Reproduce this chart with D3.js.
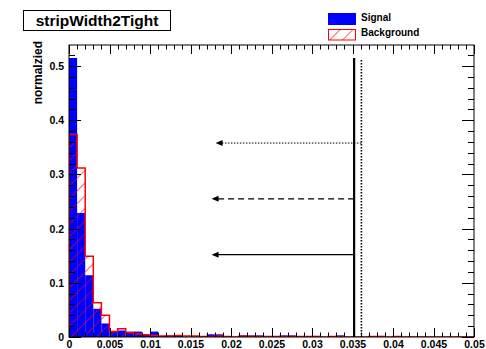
<!DOCTYPE html>
<html>
<head>
<meta charset="utf-8">
<script src="https://cdn.jsdelivr.net/npm/d3@7"></script>
<style>
  html, body { margin: 0; padding: 0; background: #fff; }
  svg { display: block; }
  text { font-family: "Liberation Sans", Arial, Helvetica, sans-serif; font-weight: bold; }
</style>
</head>
<body>
<svg id="chart" width="486" height="349"></svg>
<script>
// Histogram bin lower edges (bin width 0.001) over [0, 0.05]
const binWidth = 0.001;
const binEdges = d3.range(50).map(i => +(i * binWidth).toFixed(3));

// Normalized signal fraction per bin
const signal = [
  0.515, 0.229, 0.114, 0.052, 0.025, 0.010, 0.012, 0.010, 0.010, 0.004,
  0.010, 0.002, 0.003, 0.002, 0.000, 0.001, 0.000, 0.005, 0.005, 0.000,
  0.000, 0.003, 0.003, 0.003, 0.000, 0.001, 0.003, 0.003, 0.000, 0.001,
  0.002, 0.000, 0.001, 0.003, 0.000, 0.000, 0.000, 0.000, 0.002, 0.000,
  0.000, 0.000, 0.000, 0.000, 0.000, 0.000, 0.000, 0.000, 0.000, 0.000
];

// Normalized background fraction per bin
const background = [
  0.374, 0.312, 0.149, 0.063, 0.040, 0.010, 0.015, 0.008, 0.006, 0.004,
  0.003, 0.002, 0.002, 0.003, 0.002, 0.002, 0.001, 0.001, 0.002, 0.001,
  0.000, 0.002, 0.001, 0.001, 0.001, 0.001, 0.001, 0.001, 0.001, 0.001,
  0.001, 0.000, 0.001, 0.001, 0.000, 0.000, 0.000, 0.001, 0.001, 0.000,
  0.001, 0.000, 0.000, 0.000, 0.000, 0.000, 0.000, 0.000, 0.000, 0.000
];

// Cut markers: vertical line positions and arrow rows (y value, tip x)
const cutLines = [
  { x: 0.0352, style: "solid" },
  { x: 0.0361, style: "dotted" }
];
const cutArrows = [
  { y: 0.358, from: 0.0361, to: 0.0181, style: "dotted" },
  { y: 0.255, from: 0.0352, to: 0.0176, style: "dashed" },
  { y: 0.152, from: 0.0352, to: 0.0176, style: "solid" }
];

const xTicks = [0, 0.005, 0.01, 0.015, 0.02, 0.025, 0.03, 0.035, 0.04, 0.045, 0.05];
const xTickLabels = ["0", "0.005", "0.01", "0.015", "0.02", "0.025", "0.03", "0.035", "0.04", "0.045", "0.05"];
const yTicks = [0, 0.1, 0.2, 0.3, 0.4, 0.5];
const yTickLabels = ["0", "0.1", "0.2", "0.3", "0.4", "0.5"];

const titleText = "stripWidth2Tight";
const yTitle = "normalzied";
const legendLabels = ["Signal", "Background"];

const svg = d3.select("#chart");
const frame = { left: 69, right: 474, top: 45, bottom: 337 };

const x = d3.scaleLinear().domain([0, 0.05]).range([frame.left, frame.right]);
const y = d3.scaleLinear().domain([0, 0.539]).range([frame.bottom, frame.top]);

const defs = svg.append("defs");
const hatch = defs.append("pattern")
  .attr("id", "hatch")
  .attr("patternUnits", "userSpaceOnUse")
  .attr("width", 9).attr("height", 9)
  .attr("patternTransform", "rotate(45)");
hatch.append("line")
  .attr("x1", 0).attr("y1", 0).attr("x2", 0).attr("y2", 9)
  .attr("stroke", "#ff0000").attr("stroke-width", 1.2);

defs.append("clipPath").attr("id", "plotClip")
  .append("rect")
  .attr("x", frame.left).attr("y", frame.top)
  .attr("width", frame.right - frame.left).attr("height", frame.bottom - frame.top);

const plot = svg.append("g").attr("clip-path", "url(#plotClip)");

// Signal: solid blue bars
plot.append("g").selectAll("rect")
  .data(binEdges.map((e, i) => ({ x0: e, x1: e + binWidth, v: signal[i] })))
  .join("rect")
  .attr("x", d => x(d.x0))
  .attr("y", d => y(d.v))
  .attr("width", d => x(d.x1) - x(d.x0))
  .attr("height", d => y(0) - y(d.v))
  .attr("fill", "#0000ff");

// Background: hatched fill with red step outline
const bgData = binEdges.map((e, i) => ({ x0: e, x1: e + binWidth, v: background[i] }));
plot.append("g").selectAll("rect")
  .data(bgData)
  .join("rect")
  .attr("x", d => x(d.x0))
  .attr("y", d => y(d.v))
  .attr("width", d => x(d.x1) - x(d.x0))
  .attr("height", d => y(0) - y(d.v))
  .attr("fill", "url(#hatch)");

const stepPts = [[x(0), y(0)]];
bgData.forEach(d => { stepPts.push([x(d.x0), y(d.v)]); stepPts.push([x(d.x1), y(d.v)]); });
stepPts.push([x(0.05), y(0)]);
plot.append("path")
  .attr("d", d3.line()(stepPts))
  .attr("fill", "none")
  .attr("stroke", "#ff0000")
  .attr("stroke-width", 1.5);

// Frame
svg.append("rect")
  .attr("x", frame.left).attr("y", frame.top)
  .attr("width", frame.right - frame.left).attr("height", frame.bottom - frame.top)
  .attr("fill", "none").attr("stroke", "#000").attr("stroke-width", 1);

// Ticks (inside the frame, on all four sides)
const tickG = svg.append("g").attr("stroke", "#000").attr("stroke-width", 1);
const xMinor = d3.range(0, 0.0505, 0.001);
xMinor.forEach((v, i) => {
  const len = (i % 5 === 0) ? 9 : 4.5;
  const px = Math.round(x(v)) + 0.5;
  tickG.append("line").attr("x1", px).attr("x2", px).attr("y1", frame.bottom).attr("y2", frame.bottom - len);
  tickG.append("line").attr("x1", px).attr("x2", px).attr("y1", frame.top).attr("y2", frame.top + len);
});
const yMinor = d3.range(0, 0.54, 0.02);
yMinor.forEach((v, i) => {
  const len = (i % 5 === 0) ? 12 : 6;
  const py = Math.round(y(v)) + 0.5;
  tickG.append("line").attr("x1", frame.left).attr("x2", frame.left + len).attr("y1", py).attr("y2", py);
  tickG.append("line").attr("x1", frame.right).attr("x2", frame.right - len).attr("y1", py).attr("y2", py);
});

// Axis labels
const xAxis = d3.axisBottom(x).tickValues(xTicks).tickFormat((d, i) => xTickLabels[i]).tickSize(0).tickPadding(4);
const xg = svg.append("g").attr("transform", `translate(0,${frame.bottom})`).call(xAxis);
xg.select(".domain").remove();
xg.selectAll("text").attr("font-size", 10.5).attr("fill", "#000")
  .style("font-family", "'Liberation Sans', Arial, sans-serif").style("font-weight", "bold");

const yAxis = d3.axisLeft(y).tickValues(yTicks).tickFormat((d, i) => yTickLabels[i]).tickSize(0).tickPadding(5);
const yg = svg.append("g").attr("transform", `translate(${frame.left},0)`).call(yAxis);
yg.select(".domain").remove();
yg.selectAll("text").attr("font-size", 10.5).attr("fill", "#000")
  .style("font-family", "'Liberation Sans', Arial, sans-serif").style("font-weight", "bold");

// Y axis title
svg.append("text")
  .attr("transform", `translate(42,${frame.top - 4}) rotate(-90)`)
  .attr("text-anchor", "end")
  .attr("font-size", 12)
  .text(yTitle);

// Cut lines
const dashFor = s => s === "dotted" ? "1.5,1.5" : (s === "dashed" ? "6,4" : null);
cutLines.forEach(c => {
  svg.append("line")
    .attr("x1", x(c.x)).attr("x2", x(c.x))
    .attr("y1", c.style === "solid" ? 58 : 60).attr("y2", frame.bottom)
    .attr("stroke", "#000")
    .attr("stroke-width", c.style === "solid" ? 2.2 : 1.6)
    .attr("stroke-dasharray", dashFor(c.style));
});

cutArrows.forEach(a => {
  const py = y(a.y), tip = x(a.to);
  svg.append("line")
    .attr("x1", x(a.from)).attr("x2", tip + 5)
    .attr("y1", py).attr("y2", py)
    .attr("stroke", "#000")
    .attr("stroke-width", a.style === "dotted" ? 1 : 1.4)
    .attr("stroke-dasharray", dashFor(a.style));
  svg.append("path")
    .attr("d", `M${tip},${py} L${tip + 7},${py - 3} L${tip + 7},${py + 3} Z`)
    .attr("fill", "#000");
});

// Title box
svg.append("rect")
  .attr("x", 23.5).attr("y", 10.5).attr("width", 147).attr("height", 20)
  .attr("fill", "#fff").attr("stroke", "#000").attr("stroke-width", 1);
svg.append("text")
  .attr("x", 97).attr("y", 26)
  .attr("text-anchor", "middle")
  .attr("font-size", 15.5)
  .text(titleText);

// Legend
svg.append("rect").attr("x", 328).attr("y", 13).attr("width", 28).attr("height", 12).attr("fill", "#0000ff");
svg.append("rect").attr("x", 328.5).attr("y", 29.5).attr("width", 27).attr("height", 10.5)
  .attr("fill", "url(#hatch)").attr("stroke", "#ff0000").attr("stroke-width", 1);
svg.append("text").attr("x", 361).attr("y", 21).attr("font-size", 10).text(legendLabels[0]);
svg.append("text").attr("x", 361).attr("y", 36).attr("font-size", 10).text(legendLabels[1]);
</script>
</body>
</html>
